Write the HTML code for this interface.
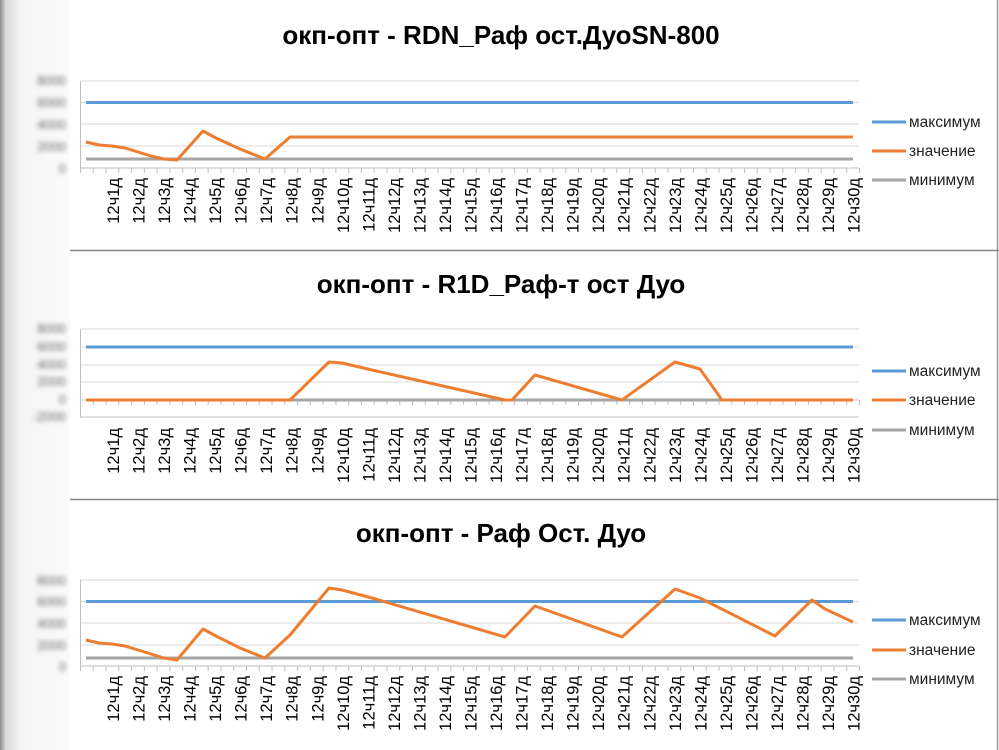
<!DOCTYPE html>
<html><head><meta charset="utf-8"><style>
html,body{margin:0;padding:0;background:#fff}
svg{display:block;font-family:"Liberation Sans",sans-serif}
</style></head><body>
<svg width="999" height="750" viewBox="0 0 999 750" xmlns="http://www.w3.org/2000/svg">
<defs>
<linearGradient id="lg" x1="0" x2="1" y1="0" y2="0">
<stop offset="0" stop-color="#8a8a8a"/><stop offset="0.08" stop-color="#d8d8d8"/><stop offset="0.3" stop-color="#f4f4f4"/><stop offset="1" stop-color="#fbfbfb"/>
</linearGradient>
<filter id="bl"><feGaussianBlur stdDeviation="2.3"/></filter>
</defs>
<rect width="999" height="750" fill="#fff"/>
<rect x="0" y="0" width="70" height="750" fill="url(#lg)"/>
<line x1="997.5" y1="0" x2="997.5" y2="750" stroke="#999" stroke-width="1.5"/>
<line x1="70" y1="250.5" x2="999" y2="250.5" stroke="#888" stroke-width="1.5"/>
<line x1="70" y1="499.5" x2="999" y2="499.5" stroke="#888" stroke-width="1.5"/>

<!-- Chart 1 -->
<text x="501" y="44" text-anchor="middle" font-size="26" font-weight="bold" fill="#000">окп-опт - RDN_Раф ост.ДуоSN-800</text>
<g stroke="#d9d9d9" stroke-width="1"><line x1="80" y1="81" x2="859" y2="81"/><line x1="80" y1="102.5" x2="859" y2="102.5"/><line x1="80" y1="124" x2="859" y2="124"/><line x1="80" y1="146" x2="859" y2="146"/></g>
<line x1="80" y1="168" x2="859" y2="168" stroke="#bfbfbf"/>
<line x1="80.5" y1="81" x2="80.5" y2="173" stroke="#bfbfbf"/>
<line x1="80" y1="170.5" x2="861" y2="170.5" stroke="#bfbfbf" stroke-width="5" stroke-dasharray="1 11.77"/>
<g filter="url(#bl)" fill="#666" font-size="13" text-anchor="end"><text x="66" y="85">8000</text><text x="66" y="107">6000</text><text x="66" y="129">4000</text><text x="66" y="151">2000</text><text x="66" y="173">0</text></g>
<line x1="86" y1="102.5" x2="853" y2="102.5" stroke="#5b9bd5" stroke-width="3"/>
<line x1="86" y1="159" x2="853" y2="159" stroke="#a5a5a5" stroke-width="3"/>
<polyline fill="none" stroke="#ed7d31" stroke-width="3" stroke-linejoin="round" points="86,142 99,145 112,146 125,148 138,152 151,156 164,159 177,160 203,131 216,138 240,149 265,159 290,137 853,137"/>
<g font-size="16.5" fill="#000" text-anchor="end">
<text transform="translate(119,178) rotate(-90)">12ч1д</text><text transform="translate(144.5,178) rotate(-90)">12ч2д</text><text transform="translate(170,178) rotate(-90)">12ч3д</text><text transform="translate(195.6,178) rotate(-90)">12ч4д</text><text transform="translate(221.1,178) rotate(-90)">12ч5д</text><text transform="translate(246.6,178) rotate(-90)">12ч6д</text><text transform="translate(272.2,178) rotate(-90)">12ч7д</text><text transform="translate(297.7,178) rotate(-90)">12ч8д</text><text transform="translate(323.3,178) rotate(-90)">12ч9д</text><text transform="translate(348.8,178) rotate(-90)">12ч10д</text><text transform="translate(374.3,178) rotate(-90)">12ч11д</text><text transform="translate(399.9,178) rotate(-90)">12ч12д</text><text transform="translate(425.4,178) rotate(-90)">12ч13д</text><text transform="translate(451,178) rotate(-90)">12ч14д</text><text transform="translate(476.5,178) rotate(-90)">12ч15д</text><text transform="translate(502,178) rotate(-90)">12ч16д</text><text transform="translate(527.6,178) rotate(-90)">12ч17д</text><text transform="translate(553.1,178) rotate(-90)">12ч18д</text><text transform="translate(578.7,178) rotate(-90)">12ч19д</text><text transform="translate(604.2,178) rotate(-90)">12ч20д</text><text transform="translate(629.7,178) rotate(-90)">12ч21д</text><text transform="translate(655.3,178) rotate(-90)">12ч22д</text><text transform="translate(680.8,178) rotate(-90)">12ч23д</text><text transform="translate(706.4,178) rotate(-90)">12ч24д</text><text transform="translate(731.9,178) rotate(-90)">12ч25д</text><text transform="translate(757.4,178) rotate(-90)">12ч26д</text><text transform="translate(783,178) rotate(-90)">12ч27д</text><text transform="translate(808.5,178) rotate(-90)">12ч28д</text><text transform="translate(834.1,178) rotate(-90)">12ч29д</text><text transform="translate(859.6,178) rotate(-90)">12ч30д</text>
</g>
<g font-size="15.5" fill="#222">
<line x1="872" y1="122" x2="906" y2="122" stroke="#5b9bd5" stroke-width="3"/><text x="909" y="127">максимум</text>
<line x1="872" y1="151" x2="906" y2="151" stroke="#ed7d31" stroke-width="3"/><text x="909" y="156">значение</text>
<line x1="872" y1="180" x2="906" y2="180" stroke="#a5a5a5" stroke-width="3"/><text x="909" y="185">минимум</text>
</g>

<!-- Chart 2 -->
<text x="501" y="293" text-anchor="middle" font-size="26" font-weight="bold" fill="#000">окп-опт - R1D_Раф-т ост Дуо</text>
<g stroke="#d9d9d9" stroke-width="1"><line x1="80" y1="329" x2="859" y2="329"/><line x1="80" y1="347" x2="859" y2="347"/><line x1="80" y1="365" x2="859" y2="365"/><line x1="80" y1="382" x2="859" y2="382"/></g>
<line x1="80" y1="417" x2="859" y2="417" stroke="#bfbfbf"/>
<line x1="80" y1="400" x2="859" y2="400" stroke="#bfbfbf"/>
<line x1="80.5" y1="329" x2="80.5" y2="417" stroke="#bfbfbf"/>
<line x1="80" y1="402.5" x2="861" y2="402.5" stroke="#bfbfbf" stroke-width="5" stroke-dasharray="1 11.77"/>
<g filter="url(#bl)" fill="#666" font-size="13" text-anchor="end"><text x="66" y="333">8000</text><text x="66" y="351">6000</text><text x="66" y="369">4000</text><text x="66" y="386">2000</text><text x="66" y="404">0</text><text x="66" y="421">-2000</text></g>
<line x1="86" y1="347" x2="853" y2="347" stroke="#5b9bd5" stroke-width="3"/>
<line x1="86" y1="400" x2="853" y2="400" stroke="#a5a5a5" stroke-width="3"/>
<polyline fill="none" stroke="#ed7d31" stroke-width="3" stroke-linejoin="round" points="86,400 290,400 329,362 342,363 372,370 505,400 512,400 535,375 622,400 675,362 700,369 722,400 853,400"/>
<g font-size="16.5" fill="#000" text-anchor="end">
<text transform="translate(119,428) rotate(-90)">12ч1д</text><text transform="translate(144.5,428) rotate(-90)">12ч2д</text><text transform="translate(170,428) rotate(-90)">12ч3д</text><text transform="translate(195.6,428) rotate(-90)">12ч4д</text><text transform="translate(221.1,428) rotate(-90)">12ч5д</text><text transform="translate(246.6,428) rotate(-90)">12ч6д</text><text transform="translate(272.2,428) rotate(-90)">12ч7д</text><text transform="translate(297.7,428) rotate(-90)">12ч8д</text><text transform="translate(323.3,428) rotate(-90)">12ч9д</text><text transform="translate(348.8,428) rotate(-90)">12ч10д</text><text transform="translate(374.3,428) rotate(-90)">12ч11д</text><text transform="translate(399.9,428) rotate(-90)">12ч12д</text><text transform="translate(425.4,428) rotate(-90)">12ч13д</text><text transform="translate(451,428) rotate(-90)">12ч14д</text><text transform="translate(476.5,428) rotate(-90)">12ч15д</text><text transform="translate(502,428) rotate(-90)">12ч16д</text><text transform="translate(527.6,428) rotate(-90)">12ч17д</text><text transform="translate(553.1,428) rotate(-90)">12ч18д</text><text transform="translate(578.7,428) rotate(-90)">12ч19д</text><text transform="translate(604.2,428) rotate(-90)">12ч20д</text><text transform="translate(629.7,428) rotate(-90)">12ч21д</text><text transform="translate(655.3,428) rotate(-90)">12ч22д</text><text transform="translate(680.8,428) rotate(-90)">12ч23д</text><text transform="translate(706.4,428) rotate(-90)">12ч24д</text><text transform="translate(731.9,428) rotate(-90)">12ч25д</text><text transform="translate(757.4,428) rotate(-90)">12ч26д</text><text transform="translate(783,428) rotate(-90)">12ч27д</text><text transform="translate(808.5,428) rotate(-90)">12ч28д</text><text transform="translate(834.1,428) rotate(-90)">12ч29д</text><text transform="translate(859.6,428) rotate(-90)">12ч30д</text>
</g>
<g font-size="15.5" fill="#222">
<line x1="872" y1="371" x2="906" y2="371" stroke="#5b9bd5" stroke-width="3"/><text x="909" y="376">максимум</text>
<line x1="872" y1="400" x2="906" y2="400" stroke="#ed7d31" stroke-width="3"/><text x="909" y="405">значение</text>
<line x1="872" y1="430" x2="906" y2="430" stroke="#a5a5a5" stroke-width="3"/><text x="909" y="435">минимум</text>
</g>

<!-- Chart 3 -->
<text x="501" y="542" text-anchor="middle" font-size="26" font-weight="bold" fill="#000">окп-опт - Раф Ост. Дуо</text>
<g stroke="#d9d9d9" stroke-width="1"><line x1="80" y1="580" x2="859" y2="580"/><line x1="80" y1="601.5" x2="859" y2="601.5"/><line x1="80" y1="623" x2="859" y2="623"/><line x1="80" y1="645" x2="859" y2="645"/></g>
<line x1="80" y1="666" x2="859" y2="666" stroke="#bfbfbf"/>
<line x1="80.5" y1="580" x2="80.5" y2="671" stroke="#bfbfbf"/>
<line x1="80" y1="668.5" x2="861" y2="668.5" stroke="#bfbfbf" stroke-width="5" stroke-dasharray="1 11.77"/>
<g filter="url(#bl)" fill="#666" font-size="13" text-anchor="end"><text x="66" y="585">8000</text><text x="66" y="606">6000</text><text x="66" y="628">4000</text><text x="66" y="650">2000</text><text x="66" y="671">0</text></g>
<line x1="86" y1="601.5" x2="853" y2="601.5" stroke="#5b9bd5" stroke-width="3"/>
<line x1="86" y1="658" x2="853" y2="658" stroke="#a5a5a5" stroke-width="3"/>
<polyline fill="none" stroke="#ed7d31" stroke-width="3" stroke-linejoin="round" points="86,640 99,643 112,644 125,646 138,650 151,654 164,658 177,660 203,629 216,636 240,648 265,658 290,635 329,588 342,590 372,598 505,637 535,606 622,637 675,589 700,598 775,636 812,600 825,609 853,622"/>
<g font-size="16.5" fill="#000" text-anchor="end">
<text transform="translate(119,676) rotate(-90)">12ч1д</text><text transform="translate(144.5,676) rotate(-90)">12ч2д</text><text transform="translate(170,676) rotate(-90)">12ч3д</text><text transform="translate(195.6,676) rotate(-90)">12ч4д</text><text transform="translate(221.1,676) rotate(-90)">12ч5д</text><text transform="translate(246.6,676) rotate(-90)">12ч6д</text><text transform="translate(272.2,676) rotate(-90)">12ч7д</text><text transform="translate(297.7,676) rotate(-90)">12ч8д</text><text transform="translate(323.3,676) rotate(-90)">12ч9д</text><text transform="translate(348.8,676) rotate(-90)">12ч10д</text><text transform="translate(374.3,676) rotate(-90)">12ч11д</text><text transform="translate(399.9,676) rotate(-90)">12ч12д</text><text transform="translate(425.4,676) rotate(-90)">12ч13д</text><text transform="translate(451,676) rotate(-90)">12ч14д</text><text transform="translate(476.5,676) rotate(-90)">12ч15д</text><text transform="translate(502,676) rotate(-90)">12ч16д</text><text transform="translate(527.6,676) rotate(-90)">12ч17д</text><text transform="translate(553.1,676) rotate(-90)">12ч18д</text><text transform="translate(578.7,676) rotate(-90)">12ч19д</text><text transform="translate(604.2,676) rotate(-90)">12ч20д</text><text transform="translate(629.7,676) rotate(-90)">12ч21д</text><text transform="translate(655.3,676) rotate(-90)">12ч22д</text><text transform="translate(680.8,676) rotate(-90)">12ч23д</text><text transform="translate(706.4,676) rotate(-90)">12ч24д</text><text transform="translate(731.9,676) rotate(-90)">12ч25д</text><text transform="translate(757.4,676) rotate(-90)">12ч26д</text><text transform="translate(783,676) rotate(-90)">12ч27д</text><text transform="translate(808.5,676) rotate(-90)">12ч28д</text><text transform="translate(834.1,676) rotate(-90)">12ч29д</text><text transform="translate(859.6,676) rotate(-90)">12ч30д</text>
</g>
<g font-size="15.5" fill="#222">
<line x1="872" y1="620" x2="906" y2="620" stroke="#5b9bd5" stroke-width="3"/><text x="909" y="625">максимум</text>
<line x1="872" y1="650" x2="906" y2="650" stroke="#ed7d31" stroke-width="3"/><text x="909" y="655">значение</text>
<line x1="872" y1="679" x2="906" y2="679" stroke="#a5a5a5" stroke-width="3"/><text x="909" y="684">минимум</text>
</g>
</svg>
</body></html>
